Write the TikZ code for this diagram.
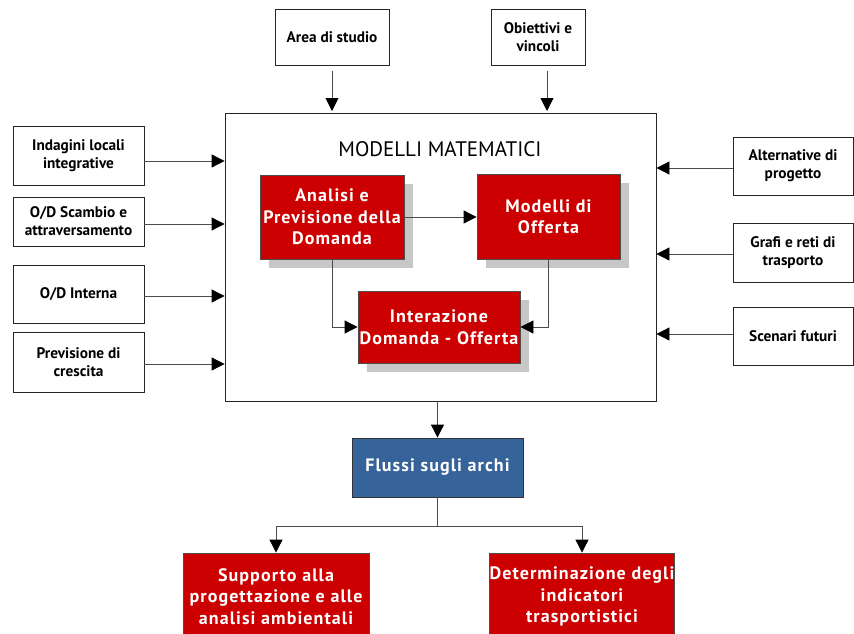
\documentclass[tikz,border=0pt]{standalone}
\usepackage{fontspec}
\setmainfont{PT Sans}
\newfontfamily\redfont[LetterSpace=6]{PT Sans}
\usetikzlibrary{arrows.meta,shadows}
\definecolor{boxred}{HTML}{CC0000}
\definecolor{boxblue}{HTML}{36649A}
\begin{document}
\begin{tikzpicture}[x=1pt,y=-1pt,
  inbox/.style={draw=black!85, line width=0.8pt, fill=white, align=center,
    font=\bfseries\fontsize{15.3}{18}\selectfont, inner sep=0pt},
  redbox/.style={draw=black!70, line width=0.8pt, fill=boxred, text=white, align=center,
    font=\redfont\bfseries\fontsize{18}{21.5}\selectfont, inner sep=0pt},
  shad/.style={drop shadow={shadow xshift=9pt,shadow yshift=-9pt,fill=black!22,opacity=1}},
  arr/.style={draw=black!70, line width=0.8pt, -{Triangle[length=13pt,width=13pt,color=black]}}]
\useasboundingbox (0,0) rectangle (854,634);
\clip (0,0) rectangle (854,634);
\fill[white] (0,0) rectangle (854,634);

% main box
\node[draw=black!85, line width=0.8pt, fill=white, minimum width=431pt, minimum height=288pt, inner sep=0pt] (main) at (440.5,257) {};
\node[font=\fontsize{21}{24}\selectfont] (title) at (440,149) {MODELLI MATEMATICI};

% inner red boxes
\node[redbox, shad, minimum width=144pt, minimum height=84pt] (anal) at (332,217) {Analisi e\\Previsione della\\Domanda};
\node[redbox, shad, minimum width=143pt, minimum height=85pt] (mod) at (548.5,216.5) {Modelli di\\Offerta};
\node[redbox, shad, minimum width=162pt, minimum height=72pt] (inter) at (439,327) {Interazione\\Domanda - Offerta};

% top boxes
\node[inbox, minimum width=114pt, minimum height=56pt] (area) at (332,37) {Area di studio};
\node[inbox, minimum width=94pt, minimum height=56pt] (obi) at (538,37) {Obiettivi e\\vincoli};

% left boxes
\node[inbox, minimum width=131pt, minimum height=59pt] (ind) at (78.5,155.5) {Indagini locali\\integrative};
\node[inbox, minimum width=131pt, minimum height=49pt] (sca) at (78.5,221.5) {O/D Scambio e\\attraversamento};
\node[inbox, minimum width=131pt, minimum height=58pt] (int) at (78.5,294) {O/D Interna};
\node[inbox, minimum width=131pt, minimum height=60pt] (pre) at (78.5,362) {Previsione di\\crescita};

% right boxes
\node[inbox, minimum width=120pt, minimum height=58pt] (alt) at (793,166) {Alternative di\\progetto};
\node[inbox, minimum width=120pt, minimum height=59pt] (gra) at (793,252.5) {Grafi e reti di\\trasporto};
\node[inbox, minimum width=120pt, minimum height=58pt] (sce) at (793,336) {Scenari futuri};

% bottom
\node[draw=black!80, line width=0.8pt, fill=boxblue, text=white, font=\redfont\bfseries\fontsize{18}{21.5}\selectfont,
  minimum width=171pt, minimum height=59pt, inner sep=0pt] (flu) at (437.5,467.5) {Flussi sugli archi};
\node[redbox, minimum width=186pt, minimum height=87pt] (sup) at (276,596.5) {Supporto alla\\progettazione e alle\\analisi ambientali};
\node[redbox, minimum width=184pt, minimum height=87pt] (det) at (582,596.5) {Determinazione degli\\indicatori\\trasportistici};

% coordinates for arrow ends
\coordinate (a1s) at (332,71);
\coordinate (a1e) at (332,111);
\coordinate (a2s) at (547,71);
\coordinate (a2e) at (547,111);
\coordinate (fork) at (437.5,526);

% connectors
\draw[arr] (a1s) -- (a1e);
\draw[arr] (a2s) -- (a2e);
\draw[arr] ([yshift=-5.5pt]ind.east) -- ([yshift=-5.5pt]ind.east -| main.west);
\draw[arr] ([yshift=-2.5pt]sca.east) -- ([yshift=-2.5pt]sca.east -| main.west);
\draw[arr] ([yshift=-2pt]int.east) -- ([yshift=-2pt]int.east -| main.west);
\draw[arr] ([yshift=-2pt]pre.east) -- ([yshift=-2pt]pre.east -| main.west);
\draw[arr] ([yshift=-2pt]alt.west) -- ([yshift=-2pt]alt.west -| main.east);
\draw[arr] ([yshift=-1.5pt]gra.west) -- ([yshift=-1.5pt]gra.west -| main.east);
\draw[arr] ([yshift=2pt]sce.west) -- ([yshift=2pt]sce.west -| main.east);

\draw[arr] (anal.east) -- (anal.east -| mod.west);
\draw[arr] (anal.south) |- (inter.west);
\draw[arr] (mod.south) |- (inter.east);

\draw[arr] (flu.north |- main.south) -- (flu.north);
\draw[draw=black!70, line width=0.8pt] (flu.south) -- (fork);
\draw[arr] (fork) -| (sup.north);
\draw[arr] (fork) -| (det.north);
\end{tikzpicture}
\end{document}
